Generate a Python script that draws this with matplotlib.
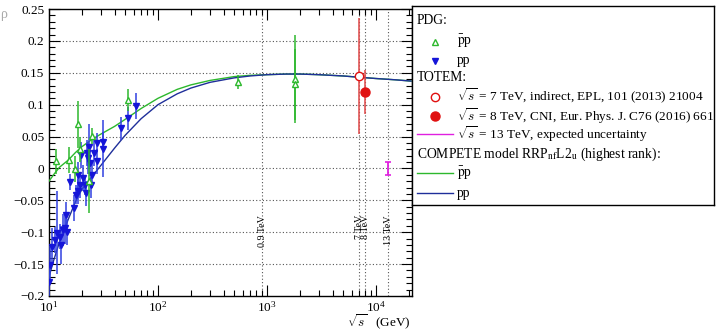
import numpy as np
import matplotlib
matplotlib.use("Agg")
import matplotlib.pyplot as plt
from matplotlib.ticker import MultipleLocator, FuncFormatter, LogLocator, NullFormatter

plt.rcParams['font.family'] = ['Liberation Serif', 'DejaVu Serif']
plt.rcParams['mathtext.fontset'] = 'stix'

# ---------------- data ----------------
# PDG pp (blue, filled down-triangles)
pp_x = [10.0, 10.2, 10.6, 11.4, 11.9, 12.6, 12.9, 13.4, 14.0, 14.2, 14.5, 15.6, 17.0, 17.7,
        18.3, 18.6, 19.3, 19.8, 20.6, 21.4, 21.8, 22.5, 22.9, 23.4, 23.8, 24.1, 24.6, 25.9,
        27.4, 27.4, 31.0, 31.4, 45.5, 53.5, 62.9]
pp_y = [-0.178, -0.151, -0.123, -0.112, -0.101, -0.107, -0.120, -0.096, -0.093, -0.073, -0.100,
        -0.021, -0.062, -0.041, -0.010, -0.036, -0.026, 0.021, -0.015, -0.026, -0.039, 0.024,
        0.016, 0.034, 0.008, -0.026, -0.010, 0.024, 0.011, 0.040, 0.042, 0.031, 0.063, 0.079, 0.098]
pp_err = [0.025, 0.030, 0.030, 0.020, 0.065, 0.020, 0.030, 0.025, 0.025, 0.020, 0.020,
          0.013, 0.020, 0.015, 0.020, 0.020, 0.020, 0.020, 0.020, 0.015, 0.020, 0.020,
          0.025, 0.035, 0.020, 0.020, 0.020, 0.020, 0.020, 0.015, 0.015, 0.045, 0.018, 0.018, 0.020]

# PDG pbar-p (green, open up-triangles)
ppbar_x = [11.6, 15.4, 17.3, 18.3, 19.2, 23.3, 24.9, 53.5, 546.0, 1800.0, 1800.0]
ppbar_y = [0.011, 0.013, -0.001, 0.069, 0.030, -0.020, 0.051, 0.107, 0.136, 0.140, 0.132]
ppbar_err = [0.020, 0.020, 0.020, 0.037, 0.020, 0.050, 0.012, 0.017, 0.011, 0.069, 0.056]

# TOTEM
totem7_x, totem7_y, totem7_err = [7000.0], [0.145], [0.091]
totem8_x, totem8_y, totem8_err = [8000.0], [0.12], [0.035]
totem13_x, totem13_y, totem13_err = [13000.0], [0.0], [0.01]

# COMPETE model curves
model_x = [10, 11, 12.5, 15, 17.5, 20, 25, 30, 40, 50, 70, 100, 150, 200, 300, 500, 700,
           1000, 1500, 2000, 3000, 5000, 7000, 10000, 15000, 21000]
model_ppbar = [-0.020, -0.010, 0.002, 0.013, 0.025, 0.034, 0.046, 0.054, 0.066, 0.077, 0.094,
               0.110, 0.124, 0.131, 0.138, 0.144, 0.146, 0.147, 0.148, 0.148, 0.147, 0.145,
               0.143, 0.141, 0.139, 0.137]
model_pp = [-0.170, -0.145, -0.115, -0.080, -0.052, -0.033, -0.012, 0.005, 0.032, 0.052, 0.078,
            0.100, 0.117, 0.126, 0.135, 0.142, 0.145, 0.147, 0.148, 0.148, 0.147, 0.145,
            0.143, 0.141, 0.139, 0.137]

energies_vlines = [900, 7000, 8000, 13000]
energies_labels = ['0.9 TeV', '7 TeV', '8 TeV', '13 TeV']

yticks = [-0.2, -0.15, -0.1, -0.05, 0, 0.05, 0.1, 0.15, 0.2, 0.25]

GREEN = '#2db82d'
BLUE = '#1515d8'
BLUE_LINE = '#1f2f9a'
RED = '#e01010'
MAGENTA = '#e020e0'

# ---------------- figure ----------------
fig = plt.figure(figsize=(7.2, 3.32), dpi=100)
ax = fig.add_axes([49/720, 36/332, 363/720, 287/332])

ax.set_xscale('log')
ax.set_xlim(10, 21400)
ax.set_ylim(-0.2, 0.25)

# grid lines (horizontal)
for yv in yticks[1:-1]:
    ax.axhline(yv, color='#555555', ls=(0, (1, 2)), lw=0.8, zorder=0)
# vertical energy lines
for ev, lab in zip(energies_vlines, energies_labels):
    ax.axvline(ev, color='#555555', ls=(0, (1, 2)), lw=0.8, zorder=0)
    ax.text(ev, -0.073, lab, rotation=90, ha='center', va='top', fontsize=7.2)

# model curves
ax.plot(model_x, model_ppbar, color=GREEN, lw=1.0, zorder=3)
ax.plot(model_x, model_pp, color=BLUE_LINE, lw=1.0, zorder=3)

# data
ax.errorbar(pp_x, pp_y, yerr=pp_err, fmt='v', color=BLUE, ecolor='#3040e0', elinewidth=1.1,
            ms=5, capsize=0, zorder=4)
ax.errorbar(ppbar_x, ppbar_y, yerr=ppbar_err, fmt='^', color=GREEN, mfc='white', mec=GREEN,
            elinewidth=1.1, ms=5, mew=1.0, capsize=0, zorder=5)
ax.errorbar(totem7_x, totem7_y, yerr=totem7_err, fmt='o', color='#e04848', mfc='white',
            mec=RED, ms=6, mew=1.0, elinewidth=1.1, capsize=0, zorder=5)
ax.errorbar(totem8_x, totem8_y, yerr=totem8_err, fmt='o', color='#e04848', mfc=RED,
            mec=RED, ms=6.5, elinewidth=1.1, capsize=0, zorder=5)
ax.errorbar(totem13_x, totem13_y, yerr=totem13_err, fmt='none', ecolor=MAGENTA,
            elinewidth=1.3, capsize=2.5, capthick=1.2, zorder=5)

# ticks
ax.set_yticks(yticks)
ax.yaxis.set_minor_locator(MultipleLocator(0.01))
ax.yaxis.set_major_formatter(FuncFormatter(
    lambda v, p: ('%g' % round(v, 3)).replace('-', '\u2212')))
ax.xaxis.set_major_locator(LogLocator(base=10, numticks=10))
ax.xaxis.set_minor_locator(LogLocator(base=10, subs=np.arange(2, 10), numticks=10))
ax.xaxis.set_minor_formatter(NullFormatter())
ax.tick_params(which='both', direction='in', top=True, right=True, labelsize=9.5)
ax.tick_params(which='major', length=8, width=0.8)
ax.tick_params(which='minor', length=4, width=0.8)
ax.tick_params(axis='x', which='major', pad=3)
for s in ax.spines.values():
    s.set_linewidth(1.0)

fig.text(411/720, 0.0, r'$\sqrt{s}$   (GeV)', ha='right', va='bottom',
         fontsize=9.5, math_fontfamily='cm')
fig.text(0.0, 0.975, 'ρ', color='#aaaaaa', fontsize=10, ha='left', va='top')

# ---------------- legend (box) ----------------
lg = fig.add_axes([412/720, (332-205)/332, 302/720, 199/332])
lg.set_xlim(0, 302)
lg.set_ylim(199, 0)
lg.set_xticks([])
lg.set_yticks([])
for s in lg.spines.values():
    s.set_linewidth(1.0)

fs = 9.8
fs2 = 9.5
tx_head = 5
tx_lab = 45
mk_x = 23
rows = [14.7, 35.7, 54.7, 71.7, 90.7, 110, 128.3, 148, 167.3, 187.3]
lg.text(tx_head, rows[0], 'PDG:', va='center', fontsize=fs)
lg.plot([mk_x], [rows[1]], '^', ms=5, mfc='white', mec=GREEN, mew=1.0)
lg.text(tx_lab, rows[1], r'$\bar{\rm p}$p', va='center', fontsize=fs)
lg.plot([mk_x], [rows[2]], 'v', ms=5, color=BLUE)
lg.text(tx_lab, rows[2], 'pp', va='center', fontsize=fs)
lg.text(tx_head, rows[3], 'TOTEM:', va='center', fontsize=fs)
lg.plot([mk_x], [rows[4]], 'o', ms=6, mfc='white', mec=RED, mew=1.0)
lg.text(tx_lab, rows[4], r'$\sqrt{s}$ = 7 TeV, indirect, EPL, 101 (2013) 21004',
        va='center', fontsize=fs2, math_fontfamily='cm')
lg.plot([mk_x], [rows[5]], 'o', ms=6.5, color=RED)
lg.text(tx_lab, rows[5], r'$\sqrt{s}$ = 8 TeV, CNI, Eur. Phys. J. C76 (2016) 661',
        va='center', fontsize=fs2, math_fontfamily='cm')
lg.plot([tx_head, 41], [rows[6], rows[6]], color=MAGENTA, lw=1.0)
lg.text(tx_lab, rows[6], r'$\sqrt{s}$ = 13 TeV, expected uncertainty',
        va='center', fontsize=fs2, math_fontfamily='cm')
lg.text(tx_head, rows[7], r'COMPETE model RRP$_{\rm nf}$L2$_{\rm u}$ (highest rank):',
        va='center', fontsize=fs)
lg.plot([tx_head, 41], [rows[8], rows[8]], color=GREEN, lw=1.0)
lg.text(tx_lab, rows[8], r'$\bar{\rm p}$p', va='center', fontsize=fs)
lg.plot([tx_head, 41], [rows[9], rows[9]], color=BLUE_LINE, lw=1.0)
lg.text(tx_lab, rows[9], 'pp', va='center', fontsize=fs)

fig.savefig('out.png', dpi=100)
